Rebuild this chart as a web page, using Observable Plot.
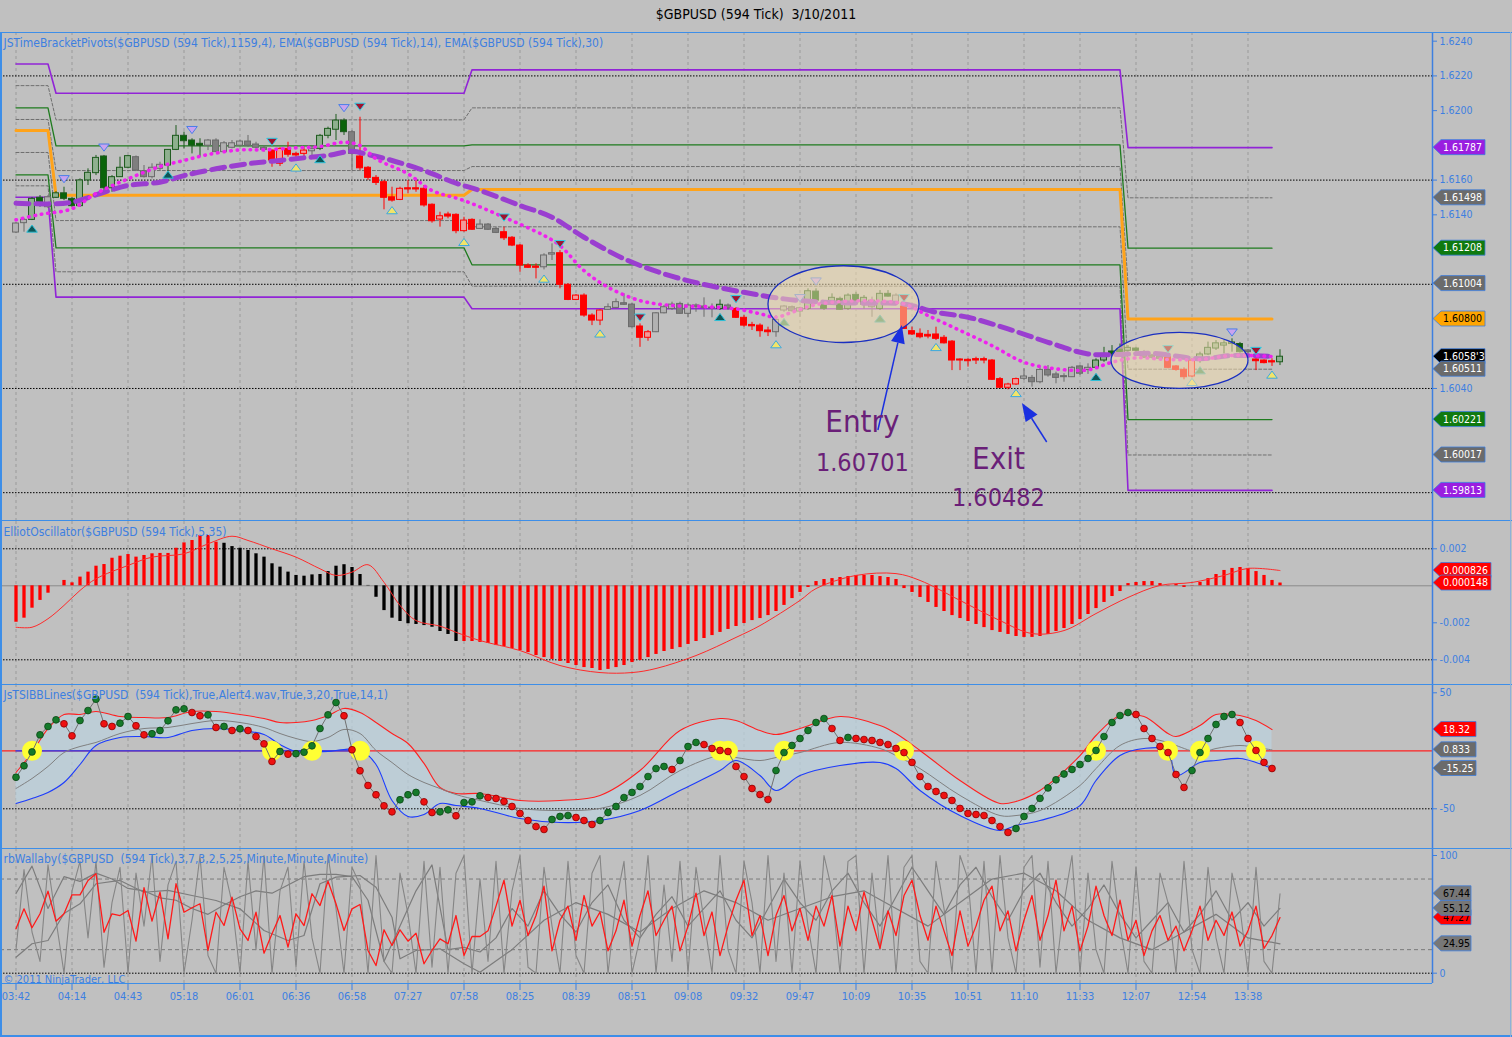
<!DOCTYPE html>
<html>
<head>
<meta charset="utf-8">
<script src="https://cdn.jsdelivr.net/npm/d3@7"></script>
<script src="https://cdn.jsdelivr.net/npm/@observablehq/plot@0.6"></script>
<style>
  html, body { margin:0; padding:0; background:#c0c0c0; overflow:hidden; }
  #root { position:relative; width:1512px; height:1037px; background:#c0c0c0; font-family:"DejaVu Sans Condensed","DejaVu Sans",sans-serif; }
  .panel { position:absolute; left:0; width:1512px; }
  .panel svg { display:block; }
  .sep { position:absolute; background:#3d8ee8; }
  #title { position:absolute; top:6px; left:0; width:1512px; text-align:center; font-size:14px; color:#000; white-space:pre; }
</style>
</head>
<body>
<div id="root"><div id="title">$GBPUSD (594 Tick)  3/10/2011</div></div>
<script>
// ======================= DATA =======================
const timeLabels = ["03:42","04:14","04:43","05:18","06:01","06:36","06:58","07:27","07:58","08:25","08:39","08:51","09:08","09:32","09:47","10:09","10:35","10:51","11:10","11:33","12:07","12:54","13:38"];
const tickBars = [0,7,14,21,28,35,42,49,56,63,70,77,84,91,98,105,112,119,126,133,140,147,154];

// candles (bar index = position in array)
const open = [
1.61298,1.61352,1.61371,1.61498,1.61444,1.61498,1.61524,1.61492,1.61450,1.61598,
1.61640,1.61736,1.61553,1.61617,1.61671,1.61732,1.61651,1.61617,1.61665,1.61684,
1.61774,1.61855,1.61828,1.61809,1.61798,1.61828,1.61761,1.61786,1.61798,1.61822,
1.61805,1.61786,1.61770,1.61694,1.61780,1.61751,1.61751,1.61766,1.61780,1.61855,
1.61890,1.61943,1.61876,1.61736,1.61671,1.61613,1.61588,1.61501,1.61486,1.61553,
1.61553,1.61550,1.61458,1.61373,1.61402,1.61400,1.61306,1.61371,1.61319,1.61344,
1.61319,1.61300,1.61268,1.61223,1.61108,1.61102,1.61098,1.61171,1.61179,1.60997,
1.60910,1.60935,1.60820,1.60791,1.60853,1.60864,1.60891,1.60883,1.60757,1.60692,
1.60724,1.60833,1.60858,1.60887,1.60830,1.60878,1.60872,1.60866,1.60858,1.60878,
1.60858,1.60807,1.60766,1.60762,1.60734,1.60724,1.60849,1.60868,1.60843,1.60858,
1.60958,1.60891,1.60883,1.60916,1.60858,1.60939,1.60883,1.60868,1.60858,1.60945,
1.60887,1.60872,1.60730,1.60715,1.60709,1.60711,1.60692,1.60670,1.60567,1.60565,
1.60569,1.60569,1.60561,1.60454,1.60404,1.60423,1.60456,1.60461,1.60436,1.60507,
1.60481,1.60471,1.60465,1.60527,1.60507,1.60519,1.60561,1.60613,1.60624,1.60617,
1.60630,1.60609,1.60590,1.60584,1.60580,1.60527,1.60507,1.60469,1.60561,1.60596,
1.60630,1.60647,1.60656,1.60656,1.60619,1.60567,1.60561,1.60557,1.60551];
const high = [
1.61356,1.61379,1.61500,1.61511,1.61511,1.61534,1.61559,1.61500,1.61607,1.61665,
1.61742,1.61742,1.61626,1.61732,1.61742,1.61739,1.61684,1.61694,1.61703,1.61776,
1.61914,1.61876,1.61838,1.61838,1.61834,1.61838,1.61822,1.61828,1.61831,1.61857,
1.61818,1.61799,1.61773,1.61786,1.61818,1.61761,1.61789,1.61799,1.61863,1.61905,
1.61978,1.61953,1.61886,1.61962,1.61678,1.61626,1.61598,1.61559,1.61559,1.61598,
1.61598,1.61569,1.61463,1.61415,1.61415,1.61406,1.61386,1.61377,1.61371,1.61350,
1.61327,1.61329,1.61275,1.61229,1.61118,1.61118,1.61176,1.61233,1.61194,1.61004,
1.60941,1.60945,1.60830,1.60853,1.60887,1.60916,1.60945,1.60889,1.60772,1.60734,
1.60837,1.60878,1.60897,1.60897,1.60887,1.60887,1.60922,1.60887,1.60910,1.60887,
1.60866,1.60820,1.60781,1.60772,1.60753,1.60820,1.60878,1.60875,1.60868,1.60974,
1.60974,1.60903,1.60945,1.60926,1.60945,1.60954,1.60935,1.60926,1.60964,1.60964,
1.60945,1.60883,1.60753,1.60743,1.60734,1.60753,1.60705,1.60676,1.60571,1.60571,
1.60580,1.60580,1.60567,1.60463,1.60430,1.60460,1.60513,1.60475,1.60519,1.60532,
1.60494,1.60485,1.60527,1.60532,1.60542,1.60571,1.60637,1.60647,1.60656,1.60647,
1.60637,1.60619,1.60596,1.60590,1.60590,1.60532,1.60519,1.60571,1.60609,1.60667,
1.60676,1.60676,1.60686,1.60665,1.60624,1.60577,1.60565,1.60571,1.60623];
const low = [
1.61292,1.61300,1.61367,1.61444,1.61436,1.61494,1.61482,1.61444,1.61444,1.61569,
1.61626,1.61530,1.61530,1.61615,1.61665,1.61649,1.61612,1.61607,1.61655,1.61645,
1.61770,1.61780,1.61751,1.61732,1.61770,1.61759,1.61759,1.61780,1.61794,1.61789,
1.61780,1.61761,1.61674,1.61678,1.61732,1.61723,1.61732,1.61742,1.61770,1.61838,
1.61828,1.61857,1.61655,1.61655,1.61598,1.61569,1.61429,1.61473,1.61482,1.61521,
1.61530,1.61444,1.61352,1.61329,1.61377,1.61291,1.61300,1.61310,1.61315,1.61310,
1.61292,1.61252,1.61217,1.61069,1.61091,1.61031,1.61083,1.61137,1.60974,1.60906,
1.60906,1.60810,1.60762,1.60762,1.60849,1.60858,1.60878,1.60748,1.60637,1.60672,
1.60722,1.60830,1.60849,1.60829,1.60807,1.60839,1.60810,1.60807,1.60849,1.60849,
1.60803,1.60753,1.60734,1.60695,1.60699,1.60695,1.60839,1.60840,1.60810,1.60849,
1.60897,1.60849,1.60878,1.60849,1.60849,1.60891,1.60858,1.60810,1.60849,1.60926,
1.60878,1.60740,1.60705,1.60686,1.60686,1.60676,1.60656,1.60503,1.60503,1.60523,
1.60538,1.60542,1.60446,1.60400,1.60392,1.60417,1.60446,1.60408,1.60427,1.60465,
1.60427,1.60436,1.60463,1.60475,1.60481,1.60513,1.60551,1.60584,1.60596,1.60609,
1.60609,1.60573,1.60570,1.60567,1.60513,1.60499,1.60450,1.60461,1.60546,1.60590,
1.60619,1.60599,1.60609,1.60603,1.60601,1.60503,1.60542,1.60527,1.60532];
const close = [
1.61350,1.61371,1.61492,1.61473,1.61501,1.61524,1.61492,1.61450,1.61598,1.61642,
1.61728,1.61553,1.61617,1.61671,1.61738,1.61655,1.61617,1.61671,1.61688,1.61774,
1.61855,1.61824,1.61798,1.61798,1.61828,1.61761,1.61812,1.61812,1.61822,1.61798,
1.61786,1.61774,1.61713,1.61780,1.61746,1.61742,1.61770,1.61780,1.61855,1.61895,
1.61943,1.61876,1.61751,1.61668,1.61613,1.61584,1.61498,1.61482,1.61550,1.61546,
1.61546,1.61454,1.61363,1.61392,1.61390,1.61306,1.61367,1.61314,1.61344,1.61314,
1.61296,1.61265,1.61223,1.61108,1.61095,1.61095,1.61166,1.61179,1.60997,1.60910,
1.60935,1.60820,1.60791,1.60849,1.60868,1.60897,1.60882,1.60753,1.60692,1.60724,
1.60833,1.60868,1.60883,1.60830,1.60878,1.60868,1.60864,1.60862,1.60882,1.60862,
1.60807,1.60762,1.60758,1.60730,1.60724,1.60795,1.60872,1.60845,1.60862,1.60960,
1.60906,1.60858,1.60922,1.60853,1.60935,1.60897,1.60922,1.60906,1.60945,1.60929,
1.60935,1.60743,1.60711,1.60695,1.60699,1.60686,1.60660,1.60561,1.60561,1.60557,
1.60561,1.60561,1.60450,1.60404,1.60423,1.60454,1.60469,1.60436,1.60507,1.60475,
1.60461,1.60465,1.60519,1.60485,1.60519,1.60561,1.60599,1.60596,1.60603,1.60634,
1.60617,1.60577,1.60577,1.60571,1.60519,1.60507,1.60465,1.60561,1.60596,1.60634,
1.60660,1.60660,1.60665,1.60609,1.60609,1.60557,1.60546,1.60550,1.60583];
// paint-bar trend per candle: G green, N neutral, R red
const trend = ("NNGGNGGGGG" + "GGGGGNNNNG" + "GGGGNNNNNN" + "NNRRRRRNGG" + "GGNRRRRRRR" +
               "RRRRRRRRNN" + "NRRRRRNNRR" + "RRRRNNNNRR" + "NNNNNNNNGN" + "RRRRRNNNNG" +
               "GGGGGGGNGG" + "NRRRRRRRRR" + "RRRRRRNNNN" + "NNNNNGGGGG" + "GNNNRRRRGG" +
               "GGGGNRRRG").split("");

// time-bracket pivot levels: 4 sessions x 9 levels
const segStart = [0, 5, 57, 139];
const segEnd   = [4, 56, 138, 157];
const pivotLevels = [
  [1.62269,1.62144,1.62016,1.61949,1.61885,1.61759,1.61630,1.61567,1.61501],
  [1.62100,1.61947,1.61797,1.61655,1.61513,1.61367,1.61210,1.61072,1.60926],
  [1.62235,1.62016,1.61803,1.61678,1.61546,1.61331,1.61112,1.60989,1.60859],
  [1.61787,1.61498,1.61208,1.61004,1.60800,1.60511,1.60221,1.60017,1.59813]];
const pivotKinds = ["purple","gray","green","gray","orange","gray","green","gray","purple"];

// EMA(14) and EMA(30)
const ema14Bars = [0,3,7,10,14,18,21,24,28,31,35,38,41,43,45,49,52,56,61,66,68,71,74,78,82,86,90,93,95,97,100,104,108,111,114,118,122,126,130,134,137,140,144,148,152,157];
const ema14 = [1.61371,1.61402,1.61435,1.61523,1.61607,1.61678,1.61713,1.61747,1.61774,1.61774,1.61786,1.61793,1.61818,1.61799,1.61723,1.61636,1.61540,1.61482,1.61386,1.61281,1.61223,1.61079,1.60983,1.60906,1.60878,1.60872,1.60858,1.60830,1.60810,1.60839,1.60883,1.60903,1.60903,1.60887,1.60820,1.60734,1.60647,1.60551,1.60513,1.60507,1.60551,1.60576,1.60567,1.60567,1.60590,1.60584];
const ema30Bars = [0,4,7,11,14,18,21,25,29,32,36,39,42,44,47,51,55,58,63,67,71,76,81,86,91,96,101,106,111,115,119,124,129,134,138,142,148,152,157];
const ema30 = [1.61467,1.61463,1.61473,1.61530,1.61569,1.61588,1.61626,1.61665,1.61694,1.61709,1.61728,1.61742,1.61766,1.61747,1.61713,1.61655,1.61582,1.61540,1.61454,1.61386,1.61271,1.61147,1.61060,1.60999,1.60954,1.60916,1.60897,1.60891,1.60887,1.60839,1.60810,1.60743,1.60666,1.60599,1.60596,1.60603,1.60571,1.60590,1.60584];

// signal triangles
const markBars = [6,11,22,32,41,43,61,68,78,90,98,100,111,144,152,155, 2,19,35,38,47,56,66,73,88,95,96,108,115,125,135,147,148,157];
const markPrices = [1.61607,1.61789,1.61890,1.61822,1.62016,1.62024,1.61386,1.61233,1.60810,1.60916,1.60922,1.61018,1.60922,1.60628,1.60724,1.60618,
                    1.61319,1.61630,1.61671,1.61719,1.61425,1.61242,1.61031,1.60715,1.60810,1.60653,1.60781,1.60801,1.60637,1.60372,1.60465,1.60436,1.60503,1.60478];
const markKinds = ["LD","LD","LD","DD","LD","DD","DD","DD","DD","DD","LD","LD","DD","DD","LD","DD",
                   "T","T","Y","T","Y","Y","Y","Y","T","Y","G","G","Y","Y","T","Y","G","Y"];

// annotations
const ellCx = [103.5, 145.5], ellCy = [1.60883, 1.60559], ellRx = [9.44, 8.56], ellRy = [0.00221, 0.00161];
const arrowX1 = [107.8, 128.9], arrowY1 = [1.60158, 1.60089], arrowX2 = [110.8, 125.8], arrowY2 = [1.60762, 1.60313];
const noteText = ["Entry", "1.60701", "Exit", "1.60482"];
const noteBar = [105.8, 105.8, 122.8, 122.8];
const notePrice = [1.60204, 1.59973, 1.59996, 1.59772];

// price axis
const priceTicks = [1.6240, 1.6220, 1.6200, 1.6160, 1.6140, 1.6040];
const priceGrid = [1.6220, 1.6160, 1.6100, 1.6040, 1.5980];
const priceFlagValues = [1.61787, 1.61498, 1.61208, 1.61004, 1.60800, 1.60583, 1.60511, 1.60221, 1.60017, 1.59813];
const priceFlagText = ["1.61787","1.61498","1.61208","1.61004","1.60800","1.6058'3","1.60511","1.60221","1.60017","1.59813"];

// Elliott oscillator
const oscHist = [
-0.00197,-0.00175,-0.00121,-0.00079,-0.00040,0.00000,0.00029,0.00016,0.00047,0.00074,
0.00106,0.00115,0.00149,0.00160,0.00169,0.00155,0.00164,0.00173,0.00175,0.00175,
0.00203,0.00232,0.00245,0.00272,0.00272,0.00236,0.00230,0.00212,0.00203,0.00191,
0.00173,0.00155,0.00119,0.00101,0.00074,0.00056,0.00052,0.00059,0.00061,0.00077,
0.00106,0.00114,0.00099,0.00061,0.00002,-0.00062,-0.00134,-0.00175,-0.00193,-0.00205,
-0.00209,-0.00215,-0.00224,-0.00247,-0.00263,-0.00301,-0.00301,-0.00301,-0.00306,-0.00312,
-0.00323,-0.00328,-0.00339,-0.00350,-0.00361,-0.00377,-0.00388,-0.00398,-0.00409,-0.00420,
-0.00431,-0.00442,-0.00447,-0.00458,-0.00452,-0.00442,-0.00431,-0.00415,-0.00404,-0.00388,
-0.00371,-0.00355,-0.00344,-0.00334,-0.00317,-0.00301,-0.00285,-0.00269,-0.00252,-0.00236,
-0.00220,-0.00204,-0.00188,-0.00177,-0.00161,-0.00139,-0.00106,-0.00069,-0.00036,-0.00009,
0.00023,0.00034,0.00039,0.00045,0.00050,0.00056,0.00056,0.00056,0.00050,0.00045,
0.00034,-0.00015,-0.00036,-0.00063,-0.00090,-0.00117,-0.00139,-0.00161,-0.00177,-0.00193,
-0.00209,-0.00226,-0.00242,-0.00252,-0.00263,-0.00274,-0.00279,-0.00279,-0.00274,-0.00263,
-0.00247,-0.00231,-0.00209,-0.00182,-0.00155,-0.00123,-0.00090,-0.00058,-0.00031,0.00012,
0.00018,0.00023,0.00023,0.00012,0.00002,0.00007,-0.00009,0.00002,0.00018,0.00039,
0.00061,0.00083,0.00094,0.00099,0.00094,0.00077,0.00056,0.00029,0.00015];
const oscBlackFrom = 26, oscBlackTo = 55;
const sigBars = [0,2,4,6,8,10,14,17,21,24,27,29,32,35,38,40,42,44,46,48,50,53,55,58,63,68,73,77,80,85,90,93,98,100,105,110,113,118,123,127,131,135,139,143,147,151,154,158];
const sig = [-0.00224,-0.00224,-0.00178,-0.00106,-0.00025,0.00038,0.00110,0.00155,0.00173,0.00227,0.00268,0.00245,0.00200,0.00155,0.00092,0.00056,0.00074,0.00114,0.00019,-0.00106,-0.00188,-0.00218,-0.00251,-0.00296,-0.00350,-0.00431,-0.00469,-0.00469,-0.00447,-0.00377,-0.00279,-0.00215,-0.00079,-0.00015,0.00056,0.00066,0.00029,-0.00079,-0.00188,-0.00258,-0.00242,-0.00150,-0.00063,0.00002,0.00018,0.00056,0.00094,0.000826];
const oscTicks = [0.002, -0.002, -0.004];
const oscFlagValues = [0.000826, 0.000148];

// TSI with Bollinger bands
const tsi = [
-22.8,-12.9,-1,13.8,21,26.7,23.3,12.9,26.1,34.7,
44.5,23.3,21,23.8,29.6,21.6,13.8,14.7,17.5,25.9,
35.3,36.2,33,30.2,31,20.1,21,17.5,19,17.5,
12.3,6,-9.2,-0.6,-2.9,-2.5,-1.2,4.3,19.2,31,
41.6,30.2,0.9,-17.2,-29.9,-37.9,-47.4,-52.6,-42.2,-37.9,
-35.9,-44,-53.2,-52.6,-50.9,-56,-44.6,-44,-38.8,-40.3,
-41.1,-43.7,-48,-54,-60.1,-65.3,-67.8,-59.2,-56.6,-55.8,
-57.5,-60.1,-63.5,-60.1,-53.2,-48,-40.3,-35.9,-30.8,-22.2,
-15.3,-13.5,-16.1,-8.4,3.7,7.2,5.4,2,0.3,-0.6,
-13.5,-22.2,-32.5,-37.7,-42,-17,-1.5,4.6,10.6,17.5,
24.4,27.8,19.2,8.9,11.5,10.6,9.7,8.9,7.2,5.4,
2,-1.5,-10,-22.2,-30.8,-35.1,-38.5,-42.8,-49.7,-54,
-54.9,-55.8,-60.1,-65.3,-70.4,-67,-56.6,-49.7,-41,-32,
-25,-20,-16.1,-11.8,-6.6,0.3,12.3,24.4,30.4,33,
31.3,19.2,10.6,3.7,-1.5,-20.4,-31.6,-17,-1.5,10.6,
22.7,29.6,31.3,24.4,10.6,0.3,-10,-15.25];
const bandBars = [0,2,4,6,8,10,13,16,19,22,25,28,31,33,35,37,39,41,43,45,47,49,51,53,55,58,63,68,73,78,83,88,90,93,95,98,103,108,110,113,118,123,125,128,133,135,138,141,144,145,148,150,153,155,157];
const bandUpper = [-18.7,-1.5,19.2,31.3,31.3,33.9,29.6,28.7,28.7,33.9,33.9,31.3,27.8,24.4,24.4,26.1,30.4,36.5,33,24.4,14.9,6.3,-10.9,-31.6,-36.8,-36.8,-42.8,-42.8,-38.5,-17,17.5,27.8,26.1,17.5,14.1,19.2,29.6,21.8,14.9,0.3,-25.6,-45.4,-43.7,-34.2,-4.1,13.2,30.4,29.6,14.9,12.3,21.8,31.3,30.4,26.1,18.32];
const bandMid = [-32.5,-23.9,-13.5,-1.5,3.7,7.2,14.9,19.2,20.1,23.5,26.1,24.4,20.1,14.9,10.6,8,11.5,18.4,14.9,0.3,-10.1,-20.4,-27.3,-32.5,-37.7,-42.8,-49.7,-51.5,-49.7,-38.5,-17,-4.1,-5.8,-8.4,-5.8,-1.5,7.2,2,-4.1,-15.3,-38.5,-55.8,-55.8,-51.5,-29.9,-15.3,4.6,10.6,7.2,4.6,-1.5,2,4.6,2.8,0.833];
const bandLower = [-45.4,-41.1,-35.9,-27.3,-11.8,4.6,11.5,12.3,11.5,17.5,19.2,17.5,14.1,5.4,-0.6,-0.6,-0.6,1.1,1.1,-11.8,-42.8,-56.6,-54.9,-45.4,-47.2,-49.7,-58.4,-61.8,-60.1,-51.5,-34.2,-17,-8.4,-21.3,-34.2,-21.3,-12.7,-10.1,-15.3,-34.2,-55.8,-68.7,-64.4,-60.1,-47.2,-25.6,-4.1,2,0.3,-21.3,-10.1,-8.4,-6.6,-10.1,-15.25];
const crossBars = [2,32,37,43,88,89,96,111,135,144,148,155];
const tsiTicks = [50, -50];
const tsiFlagValues = [18.32, 0.833, -15.25];

// rbWallaby
const wallRed = [
37.7,54.7,38.6,50.5,69.7,44.2,50.5,66.6,66.6,78.8,
84.5,34.8,50.5,49,53.3,27.2,72.6,44.2,68.8,29.2,
76,51.8,55.6,59,19.3,51.8,40.5,64.6,37.7,27.8,
51.8,17,33.5,49,22.1,50.5,40.5,67.5,57.5,78.2,
59,36.3,54.7,58.4,19.3,6.5,36.9,23.5,36.9,27.2,
34,8,19.3,29.2,25,49,15,31.2,31.2,36,
57,79,40,62,32,49,74,19,45,57,
28,66,40,52,19,36,62,23,49,70,
32,45,57,19,40,68,32,52,15,40,
62,79,32,49,15,49,66,36,55,28,
57,40,66,23,57,36,69,45,21,53,
32,66,79,49,28,57,36,15,53,23,
40,62,74,36,53,19,45,66,28,49,
79,36,57,19,40,74,49,32,62,28,
45,15,36,49,28,40,19,36,57,28,
45,32,52,23,36,57,21,32,47.27];
const wallFast = [
20,88,35,10,92,45,0,70,95,30,
95,5,60,90,0,85,40,100,10,75,
95,0,45,100,15,0,90,60,0,95,
20,100,0,70,90,5,95,30,0,100,
55,0,90,75,0,100,10,0,85,50,
0,95,5,90,0,85,100,0,80,10,
95,0,70,100,5,0,90,40,0,95,
15,0,85,100,0,60,95,0,30,100,
0,75,10,95,0,90,45,0,100,20,
0,95,60,0,100,10,85,0,95,40,
0,100,70,0,95,100,0,85,20,100,
0,90,100,10,0,95,55,0,100,80,
0,95,0,100,30,0,90,100,5,95,
0,60,100,0,85,20,0,95,40,0,
90,10,0,85,60,0,95,20,0,90,
30,0,85,55,0,90,10,0,67.44];
const wallMed = [67.7,91,55,82,78,85,80,72,70,64, 62,55,50,58,65,70,68,75,82,84,
                 84,82,62,10,40,70,92,20,22,18, 30,55,40,70,50,35,60,75,45,30,
                 50,65,40,55,70,45,30,55,80,60, 45,70,85,60,40,65,90,70,50,75,
                 90,65,45,70,85,60,40,55,75,50, 30,45,60,35,50,70,45,60,40,55.12];
const wallSlowBars = [0,2,4,6,8,10,13,16,19,22,25,28,31,34,36,38,40,43,45,47,48,50,53,56,58,62,66,70,74,78,82,86,90,94,98,102,106,110,114,118,122,126,130,134,138,142,146,150,154,158];
const wallSlow = [13.6,25,27.8,50.7,59,76,78.8,68.8,70.3,66,61.8,54.7,36.3,27.8,32,76,81.6,83,73,47.6,12.2,19.3,20.7,8,0.8,20,45,60,50,35,55,70,60,45,55,65,70,55,40,60,80,85,70,45,30,20,35,50,30,24.95];
const wallTicks = [100, 0];
const wallFlagValues = [47.27, 67.44, 55.12, 24.95];

// ======================= RENDER =======================
const FONT = '"DejaVu Sans Condensed","DejaVu Sans",sans-serif';
const AXC = "#3d7fe0";
const W = 1512, MR = 80;
const X0 = -15.5 / 8, X1 = (1432 - 15.5) / 8;
const root = document.getElementById("root");

function place(node, top, h) {
  const d = document.createElement("div");
  d.className = "panel"; d.style.top = top + "px"; d.style.height = h + "px";
  d.appendChild(node); root.appendChild(d);
}
function sep(x, y, w, h, color) {
  const d = document.createElement("div");
  d.className = "sep";
  Object.assign(d.style, {left: x + "px", top: y + "px", width: w + "px", height: h + "px"});
  if (color) d.style.background = color;
  root.appendChild(d);
}
function basePlot(h, ydomain, marks) {
  return Plot.plot({
    width: W, height: h, marginLeft: 0, marginRight: MR, marginTop: 0, marginBottom: 0,
    x: {domain: [X0, X1], axis: null},
    y: {domain: ydomain},
    color: {type: "identity"},
    style: {background: "transparent", overflow: "visible", fontFamily: FONT},
    marks
  });
}
const vgrid = () => Plot.ruleX(tickBars, {stroke: "#9a9a9a", strokeDasharray: "3,3", strokeWidth: 1});
const rightLine = () => Plot.ruleX([X1], {stroke: AXC, strokeWidth: 1.5});
const panelTitle = (s) => Plot.text([s], {frameAnchor: "top-left", dx: 3, dy: 6, fill: AXC, fontSize: 12, textAnchor: "start", lineAnchor: "top", fontFamily: FONT});
const rightAxis = (ticks, fmt) => Plot.axisY({anchor: "right", ticks, tickFormat: fmt, tickSize: 4, tickPadding: 3, color: AXC, fontSize: 10.5, label: null});

function flagMark(values, texts, bgs, fgs, w) {
  return (index, scales, vals, dims) => {
    const g = d3.create("svg:g").attr("font-family", FONT).attr("font-size", 10.5).attr("text-anchor", "start");
    const x0 = dims.width - dims.marginRight;
    values.forEach((v, k) => {
      const y = scales.y(v);
      g.append("path")
        .attr("d", `M${x0 + 1},${y}L${x0 + 9},${y - 7.5}L${x0 + 9 + w},${y - 7.5}L${x0 + 9 + w},${y + 7.5}L${x0 + 9},${y + 7.5}Z`)
        .attr("fill", bgs[k]).attr("stroke", AXC).attr("stroke-width", 0.8);
      g.append("text").attr("x", x0 + 11).attr("y", y).attr("dy", "0.35em").attr("text-anchor", "start").attr("fill", fgs[k]).text(texts[k]);
    });
    return g.node();
  };
}

// ---------- Panel 1: price ----------
const candles = open.map((o, i) => ({i, o, h: high[i], l: low[i], c: close[i], t: trend[i]}));
const candleFill = d => {
  const up = d.c >= d.o;
  if (d.t === "G") return up ? "#8fb08f" : "#0a640a";
  if (d.t === "R") return up ? "#f29a9a" : "#ff0000";
  return up ? "#b2b2b2" : "#7f7f7f";
};
const candleStroke = d => d.t === "G" ? "#1d5a1d" : d.t === "R" ? "#ff0000" : "#6a6a6a";

const pivotPts = [];
pivotKinds.forEach((kind, k) => {
  segStart.forEach((s, j) => {
    pivotPts.push({k, kind, x: s, y: pivotLevels[j][k]});
    pivotPts.push({k, kind, x: segEnd[j], y: pivotLevels[j][k]});
  });
});
const pivStyle = {
  gray:   {stroke: "#6f6f6f", strokeWidth: 1, strokeDasharray: "3,2"},
  green:  {stroke: "#1e7b1e", strokeWidth: 1.3},
  purple: {stroke: "#9124d6", strokeWidth: 1.6},
  orange: {stroke: "#ffa31a", strokeWidth: 3}
};
const pivotMarks = ["gray", "green", "purple", "orange"].map(kind =>
  Plot.line(pivotPts.filter(p => p.kind === kind), {x: "x", y: "y", z: "k", ...pivStyle[kind]}));

const triUp = {draw(ctx, size) { const s = Math.sqrt(size); ctx.moveTo(0, -0.5 * s); ctx.lineTo(0.68 * s, 0.42 * s); ctx.lineTo(-0.68 * s, 0.42 * s); ctx.closePath(); }};
const triDown = {draw(ctx, size) { const s = Math.sqrt(size); ctx.moveTo(0, 0.5 * s); ctx.lineTo(0.68 * s, -0.42 * s); ctx.lineTo(-0.68 * s, -0.42 * s); ctx.closePath(); }};
const mk = markBars.map((b, k) => ({x: b, y: markPrices[k], kind: markKinds[k]}));
const mkFill = {LD: "#c9a3ef", DD: "#a1122e", T: "#0e5656", Y: "#f2e46a", G: "#3f8f63"};
const mkStroke = {LD: "#4a7fe8", DD: "#2fd0e8", T: "#2fc0d8", Y: "#3aa8e0", G: "#4ab0b8"};

const ellipseMark = (index, scales) => {
  const g = d3.create("svg:g");
  ellCx.forEach((cx0, k) => {
    const cx = scales.x(cx0), cy = scales.y(ellCy[k]);
    const rx = Math.abs(scales.x(cx0 + ellRx[k]) - cx), ry = Math.abs(scales.y(ellCy[k] + ellRy[k]) - cy);
    g.append("ellipse").attr("cx", cx).attr("cy", cy).attr("rx", rx).attr("ry", ry)
      .attr("fill", "#f3dcae").attr("fill-opacity", 0.55).attr("stroke", "#1a2fc0").attr("stroke-width", 1.3);
  });
  return g.node();
};
const arrowMark = (index, scales) => {
  const g = d3.create("svg:g");
  arrowX1.forEach((ax, k) => {
    const x1 = scales.x(ax), y1 = scales.y(arrowY1[k]), x2 = scales.x(arrowX2[k]), y2 = scales.y(arrowY2[k]);
    const dx = x2 - x1, dy = y2 - y1, L = Math.hypot(dx, dy), ux = dx / L, uy = dy / L, hl = 18, hw = 7;
    const bx = x2 - ux * hl, by = y2 - uy * hl;
    g.append("line").attr("x1", x1).attr("y1", y1).attr("x2", bx).attr("y2", by).attr("stroke", "#1a30e0").attr("stroke-width", 1.5);
    g.append("path").attr("d", `M${x2},${y2}L${bx - uy * hw},${by + ux * hw}L${bx + uy * hw},${by - ux * hw}Z`).attr("fill", "#1a30e0");
  });
  return g.node();
};
const notes = noteText.map((t, k) => ({t, x: noteBar[k], y: notePrice[k], big: k % 2 === 0}));

const p1 = basePlot(489, [1.59634, 1.62450], [
  vgrid(),
  Plot.ruleY(priceGrid, {stroke: "#000", strokeDasharray: "1.5,1.5", strokeWidth: 1}),
  ...pivotMarks,
  Plot.ruleX(candles, {x: "i", y1: "l", y2: "h", stroke: candleStroke, strokeWidth: 1}),
  Plot.rect(candles, {x1: d => d.i - 0.37, x2: d => d.i + 0.37, y1: "o", y2: "c", fill: candleFill, stroke: candleStroke, strokeWidth: 1}),
  Plot.line(ema30Bars.map((b, k) => ({x: b, y: ema30[k]})), {x: "x", y: "y", stroke: "#9a3ed0", strokeWidth: 5, strokeDasharray: "13,7", curve: "catmull-rom"}),
  Plot.line(ema14Bars.map((b, k) => ({x: b, y: ema14[k]})), {x: "x", y: "y", stroke: "#ee22ee", strokeWidth: 3.6, strokeDasharray: "0.5,6", strokeLinecap: "round", curve: "catmull-rom"}),
  Plot.dot(mk.filter(d => d.kind.endsWith("D")), {x: "x", y: "y", symbol: triDown, r: 4.4, fill: d => mkFill[d.kind], stroke: d => mkStroke[d.kind], strokeWidth: 1}),
  Plot.dot(mk.filter(d => !d.kind.endsWith("D")), {x: "x", y: "y", symbol: triUp, r: 4.4, fill: d => mkFill[d.kind], stroke: d => mkStroke[d.kind], strokeWidth: 1}),
  ellipseMark,
  arrowMark,
  Plot.text(notes.filter(d => d.big), {x: "x", y: "y", text: "t", fill: "#6a1f78", fontSize: 31, fontFamily: FONT}),
  Plot.text(notes.filter(d => !d.big), {x: "x", y: "y", text: "t", fill: "#6a1f78", fontSize: 25, fontFamily: FONT}),
  panelTitle("JSTimeBracketPivots($GBPUSD (594 Tick),1159,4), EMA($GBPUSD (594 Tick),14), EMA($GBPUSD (594 Tick),30)"),
  rightLine(),
  rightAxis(priceTicks, d3.format(".4f")),
  flagMark(priceFlagValues, priceFlagText,
    ["#9a1ee0","#6b6b6b","#0f7a0f","#6b6b6b","#ffa500","#000000","#6b6b6b","#0f7a0f","#6b6b6b","#9a1ee0"],
    ["#fff","#fff","#fff","#fff","#000","#fff","#fff","#fff","#fff","#fff"], 44)
]);
place(p1, 32, 489);

// ---------- Panel 2: Elliott oscillator ----------
const oscData = oscHist.map((v, i) => ({x: i, v, c: (i >= oscBlackFrom && i <= oscBlackTo) ? "#000000" : "#ff0000"}));
const p2 = basePlot(163, [-0.005335, 0.003476], [
  vgrid(),
  Plot.ruleY([0.002, -0.004], {stroke: "#000", strokeDasharray: "1.5,1.5"}),
  Plot.ruleY([0], {stroke: "#8a8a8a", strokeWidth: 1}),
  Plot.ruleX(oscData, {x: "x", y1: 0, y2: "v", stroke: "c", strokeWidth: 3.3}),
  Plot.line(sigBars.map((b, k) => ({x: b, y: sig[k]})), {x: "x", y: "y", stroke: "#ff2a2a", strokeWidth: 1, curve: "catmull-rom"}),
  panelTitle("ElliotOscillator($GBPUSD (594 Tick),5,35)"),
  rightLine(),
  rightAxis(oscTicks, d => String(d)),
  flagMark(oscFlagValues, ["0.000826", "0.000148"], ["#ff0000", "#ff0000"], ["#fff", "#fff"], 50)
]);
place(p2, 521, 163);

// ---------- Panel 3: TSI BB lines ----------
const bands = bandBars.map((b, k) => ({x: b, up: bandUpper[k], mid: bandMid[k], lo: bandLower[k]}));
const tsiData = tsi.map((v, i) => ({x: i, v, up: i === 0 || v >= tsi[i - 1]}));
const p3 = basePlot(164, [-84.22, 57.16], [
  vgrid(),
  Plot.areaY(bands, {x: "x", y1: "lo", y2: "up", fill: "#bcd3e0", fillOpacity: 0.7, curve: "catmull-rom"}),
  Plot.ruleY([-50], {stroke: "#000", strokeDasharray: "1.5,1.5"}),
  Plot.ruleY([0], {stroke: "#ff2020", strokeWidth: 1.2}),
  Plot.ruleY([{y: 0, x1: 0, x2: 43}], {y: "y", x1: "x1", x2: "x2", stroke: "#1a3cff", strokeWidth: 1.2}),
  Plot.line(bands, {x: "x", y: "up", stroke: "#ff2020", strokeWidth: 1.1, curve: "catmull-rom"}),
  Plot.line(bands, {x: "x", y: "mid", stroke: "#808080", strokeWidth: 1, curve: "catmull-rom"}),
  Plot.line(bands, {x: "x", y: "lo", stroke: "#1a3cff", strokeWidth: 1.1, curve: "catmull-rom"}),
  Plot.dot(crossBars.map(b => ({x: b, y: 0})), {x: "x", y: "y", r: 10, fill: "#ffff33", stroke: "none"}),
  Plot.line(tsiData, {x: "x", y: "v", stroke: "#707070", strokeWidth: 1}),
  Plot.dot(tsiData, {x: "x", y: "v", r: 3.4, fill: d => d.up ? "#157a2a" : "#ee1111", stroke: d => d.up ? "#0a4514" : "#8a0000", strokeWidth: 0.8}),
  panelTitle("JsTSIBBLines($GBPUSD  (594 Tick),True,Alert4.wav,True,3,20,True,14,1)"),
  rightLine(),
  rightAxis(tsiTicks, d => String(d)),
  flagMark(tsiFlagValues, ["18.32", "0.833", "-15.25"], ["#ff0000", "#6b6b6b", "#6b6b6b"], ["#fff", "#fff", "#fff"], 35)
]);
place(p3, 684, 164);

// ---------- Panel 4: rbWallaby ----------
const p4 = basePlot(135, [-8.75, 105.95], [
  vgrid(),
  Plot.ruleY([80, 20], {stroke: "#7a7a7a", strokeDasharray: "4,3"}),
  Plot.ruleY([0], {stroke: "#000", strokeDasharray: "1.5,1.5"}),
  Plot.line(wallSlowBars.map((b, k) => ({x: b, y: wallSlow[k]})), {x: "x", y: "y", stroke: "#7c7c7c", strokeWidth: 1.2}),
  Plot.line(wallMed.map((v, k) => ({x: 2 * k, y: v})), {x: "x", y: "y", stroke: "#7c7c7c", strokeWidth: 1.2}),
  Plot.line(wallFast.map((v, i) => ({x: i, y: v})), {x: "x", y: "y", stroke: "#858585", strokeWidth: 1.1}),
  Plot.line(wallRed.map((v, i) => ({x: i, y: v})), {x: "x", y: "y", stroke: "#ff1a1a", strokeWidth: 1.3}),
  panelTitle("rbWallaby($GBPUSD  (594 Tick),3,7,3,2,5,25,Minute,Minute,Minute)"),
  Plot.text(["© 2011 NinjaTrader, LLC"], {frameAnchor: "bottom-left", dx: 3, dy: -1, fill: AXC, fontSize: 11, textAnchor: "start", lineAnchor: "bottom", fontFamily: FONT}),
  rightLine(),
  rightAxis(wallTicks, d => String(d)),
  flagMark(wallFlagValues, ["47.27", "67.44", "55.12", "24.95"], ["#ff0000", "#777777", "#777777", "#777777"], ["#000", "#000", "#000", "#000"], 30)
]);
place(p4, 848, 135);

// ---------- time axis ----------
const px = Plot.plot({
  width: W, height: 54, marginLeft: 0, marginRight: MR, marginTop: 1, marginBottom: 53,
  x: {domain: [X0, X1]},
  style: {background: "transparent", overflow: "visible", fontFamily: FONT},
  marks: [Plot.axisX({anchor: "bottom", ticks: tickBars, tickFormat: d => timeLabels[tickBars.indexOf(d)], tickSize: 6, tickPadding: 2, color: AXC, fontSize: 11, label: null})]
});
place(px, 983, 54);

// ---------- frame lines ----------
sep(0, 32, 1512, 1);
sep(0, 520, 1512, 1);
sep(0, 684, 1512, 1);
sep(0, 848, 1512, 1);
sep(0, 983, 1432, 1);
sep(0, 1035, 1512, 2);
sep(0, 32, 2, 1005);
sep(1510, 32, 1, 1005, "#8fb0d8");
</script>
</body>
</html>
